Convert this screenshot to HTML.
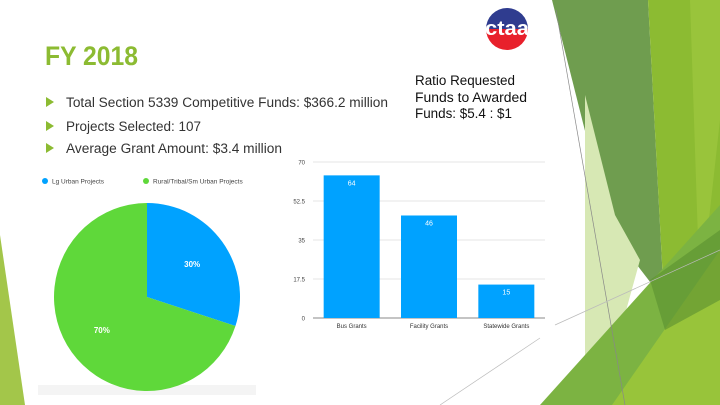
<!DOCTYPE html>
<html><head><meta charset="utf-8"><style>
body{margin:0;background:#fff}
svg{display:block;font-family:"Liberation Sans",sans-serif}
</style></head><body>
<svg width="720" height="405" viewBox="0 0 720 405">
<g>
<polygon points="552,0 648,0 664,300 610,230" fill="#6f9d4f"/>
<polygon points="648,0 720,0 720,405 664,300" fill="#8cbb32"/>
<polygon points="690,0 720,0 720,120 700,300" fill="#9ec83e" opacity="0.7"/>
<polygon points="585,95 615,215 640,260 600,405 585,405" fill="#d7e8b4"/>
<polygon points="540,405 720,205 720,405" fill="#7cb342"/>
<polygon points="612,405 720,250 720,405" fill="#98c43a"/>
<polygon points="650,280 720,230 720,300 665,330" fill="#5a8f30" opacity="0.6"/>
<line x1="556" y1="10" x2="625" y2="405" stroke="#888" stroke-width="0.7"/>
<line x1="555" y1="325" x2="720" y2="250" stroke="#bbb" stroke-width="0.7"/>
<line x1="440" y1="405" x2="540" y2="338" stroke="#bbb" stroke-width="0.7"/>
</g>
<polygon points="0,235 25,405 0,405" fill="#a3c64a"/>
<g>
<clipPath id="lc"><circle cx="507" cy="29" r="21"/></clipPath>
<rect x="486" y="8" width="42" height="21" fill="#2f3c8f" clip-path="url(#lc)"/>
<rect x="486" y="29" width="42" height="21" fill="#e8202b" clip-path="url(#lc)"/>
<text x="507" y="35" text-anchor="middle" font-size="20" font-weight="bold" fill="#fff" textLength="44" lengthAdjust="spacingAndGlyphs">ctaa</text>
</g>
<text x="45" y="65" font-size="27" font-weight="bold" fill="#8cbb32" textLength="93" lengthAdjust="spacingAndGlyphs">FY 2018</text>
<g font-size="13.5" fill="#333">
<polygon points="46,97 46,107 54,102" fill="#8cbb32"/>
<text x="66" y="107" textLength="322" lengthAdjust="spacingAndGlyphs">Total Section 5339 Competitive Funds: $366.2 million</text>
<polygon points="46,121 46,131 54,126" fill="#8cbb32"/>
<text x="66" y="131" textLength="135" lengthAdjust="spacingAndGlyphs">Projects Selected: 107</text>
<polygon points="46,143 46,153 54,148" fill="#8cbb32"/>
<text x="66" y="153" textLength="216" lengthAdjust="spacingAndGlyphs">Average Grant Amount: $3.4 million</text>
</g>
<g font-size="13.5" fill="#111">
<text x="415" y="85" textLength="100" lengthAdjust="spacingAndGlyphs">Ratio Requested</text>
<text x="415" y="102" textLength="112" lengthAdjust="spacingAndGlyphs">Funds to Awarded</text>
<text x="415" y="118" textLength="97" lengthAdjust="spacingAndGlyphs">Funds: $5.4 : $1</text>
</g>
<g id="pie">
<rect x="38" y="385" width="218" height="10" fill="#f4f4f4"/>
<circle cx="45" cy="181" r="3" fill="#00a2ff"/>
<text x="52" y="183.5" font-size="6.5" fill="#444">Lg Urban Projects</text>
<circle cx="146" cy="181" r="3" fill="#5fd83a"/>
<text x="153" y="183.5" font-size="6.5" fill="#444">Rural/Tribal/Sm Urban Projects</text>
</g>
<g id="bars"></g>
</svg>
<script>
const pieLabels=["Lg Urban Projects","Rural/Tribal/Sm Urban Projects"];
const pieValues=[30,70];
const pieColors=["#00a2ff","#5fd83a"];
const barCats=["Bus Grants","Facility Grants","Statewide Grants"];
const barValues=[64,46,15];
const yTicks=[0,17.5,35,52.5,70];
const NS="http://www.w3.org/2000/svg";
function mk(t,a,p){const e=document.createElementNS(NS,t);for(const k in a)e.setAttribute(k,a[k]);p.appendChild(e);return e;}
(function(){
const g=document.getElementById('pie');const cx=147,cy=297,rx=93,ry=94;
const tot=pieValues.reduce((a,b)=>a+b,0);let a0=-Math.PI/2;
pieValues.forEach((v,i)=>{
const a1=a0+v/tot*2*Math.PI;
const x0=cx+rx*Math.cos(a0),y0=cy+ry*Math.sin(a0),x1=cx+rx*Math.cos(a1),y1=cy+ry*Math.sin(a1);
const p=mk('path',{d:`M${cx},${cy}L${x0},${y0}A${rx},${ry} 0 ${a1-a0>Math.PI?1:0} 1 ${x1},${y1}Z`,fill:pieColors[i]},g);


const am=(a0+a1)/2;
const t=mk('text',{x:cx+rx*0.6*Math.cos(am),y:cy+ry*0.6*Math.sin(am)+3,'text-anchor':'middle','font-size':'8','font-weight':'bold',fill:'#fff'},g);
t.textContent=v+'%';


a0=a1;});
})();
(function(){
const g=document.getElementById('bars');const x0=313,x1=545,yb=318,yt=162,ymax=70;
const y=v=>yb-(v/ymax)*(yb-yt);
yTicks.forEach(t=>{
const l=mk('line',{x1:x0,x2:x1,y1:y(t),y2:y(t),stroke:t===0?'#888':'#e6e6e6','stroke-width':1},g);


const tx=mk('text',{x:305,y:y(t)+2.5,'text-anchor':'end','font-size':'6',fill:'#444'},g);
tx.textContent=t;


});
const bw=(x1-x0)/barCats.length,w=56;
barCats.forEach((c,i)=>{
const cx=x0+bw*(i+0.5);const v=barValues[i];
const r=mk('rect',{x:cx-w/2,y:y(v),width:w,height:yb-y(v),fill:'#00a2ff'},g);


const vt=mk('text',{x:cx,y:y(v)+10,'text-anchor':'middle','font-size':'7',fill:'#fff'},g);
vt.textContent=v;


const ct=mk('text',{x:cx,y:yb+10,'text-anchor':'middle','font-size':'6',fill:'#333'},g);
ct.textContent=c;


});
})();
</script>
</body></html>
